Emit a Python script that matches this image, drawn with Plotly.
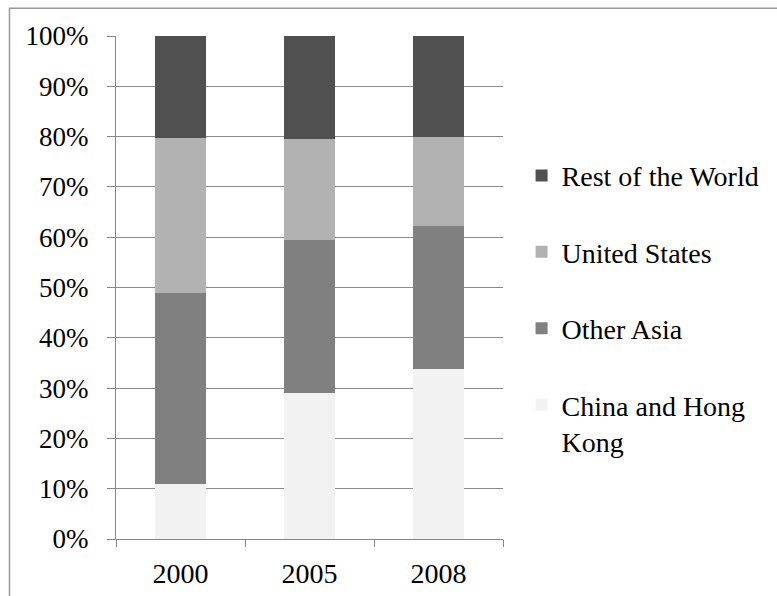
import plotly.graph_objects as go

years = ["2000", "2005", "2008"]
series_names = ["China and Hong<br>Kong", "Other Asia", "United States", "Rest of the World"]
china = [10.9, 29.1, 33.8]
other_asia = [38.0, 30.4, 28.5]
united_states = [30.8, 20.0, 17.6]
rest_world = [20.3, 20.5, 20.1]
colors = ["#f2f2f2", "#808080", "#b2b2b2", "#505050"]
y_ticks = [0, 10, 20, 30, 40, 50, 60, 70, 80, 90, 100]
y_tick_labels = [f"{v}%" for v in y_ticks]

values = [china, other_asia, united_states, rest_world]

fig = go.Figure()
for i, (name, vals, col) in enumerate(zip(series_names, values, colors)):
    fig.add_trace(go.Bar(
        x=years, y=vals, name=name, marker=dict(color=col, line=dict(width=0)),
        legendgroup=f"g{i}", legendrank=len(series_names) - i,
    ))

FONT = "Liberation Serif"
FS = 28
fig.update_layout(
    barmode="stack",
    bargap=0.6,
    width=777, height=596,
    margin=dict(l=116, r=274, t=36, b=57, autoexpand=False),
    paper_bgcolor="white", plot_bgcolor="white",
    font=dict(family=FONT, size=FS, color="black"),
    showlegend=True,
    legend=dict(
        traceorder="grouped",
        tracegroupgap=37,
        x=1.048, y=0.772, xanchor="left", yanchor="top",
        font=dict(family=FONT, size=FS, color="black"),
        valign="top",
        itemwidth=30,
    ),
    xaxis=dict(
        automargin=False,
        showline=True, linecolor="#868686", linewidth=1.3,
        ticks="outside", ticklen=7, tickcolor="#868686", tickwidth=1.3,
        tickson="boundaries", showgrid=False,
        tickfont=dict(family=FONT, size=FS, color="black"),
        ticklabelstandoff=9,
    ),
    yaxis=dict(
        automargin=False,
        range=[0, 100], tickmode="array", tickvals=y_ticks, ticktext=y_tick_labels,
        showline=True, linecolor="#868686", linewidth=1.3,
        ticks="outside", ticklen=8, tickcolor="#868686", tickwidth=1.3,
        showgrid=True, gridcolor="#8c8c8c", gridwidth=1.2,
        zeroline=False,
        tickfont=dict(family=FONT, size=27, color="black"),
        ticklabelstandoff=13,
    ),
    shapes=[dict(
        type="rect", xref="paper", yref="paper",
        x0=(9.5 - 116) / 387, x1=2.0, y0=-1.0, y1=(539 - 8) / 503.3,
        line=dict(color="#9a9a9a", width=1.5), fillcolor="rgba(0,0,0,0)",
        layer="below",
    )],
)

fig.write_html("out.html")
